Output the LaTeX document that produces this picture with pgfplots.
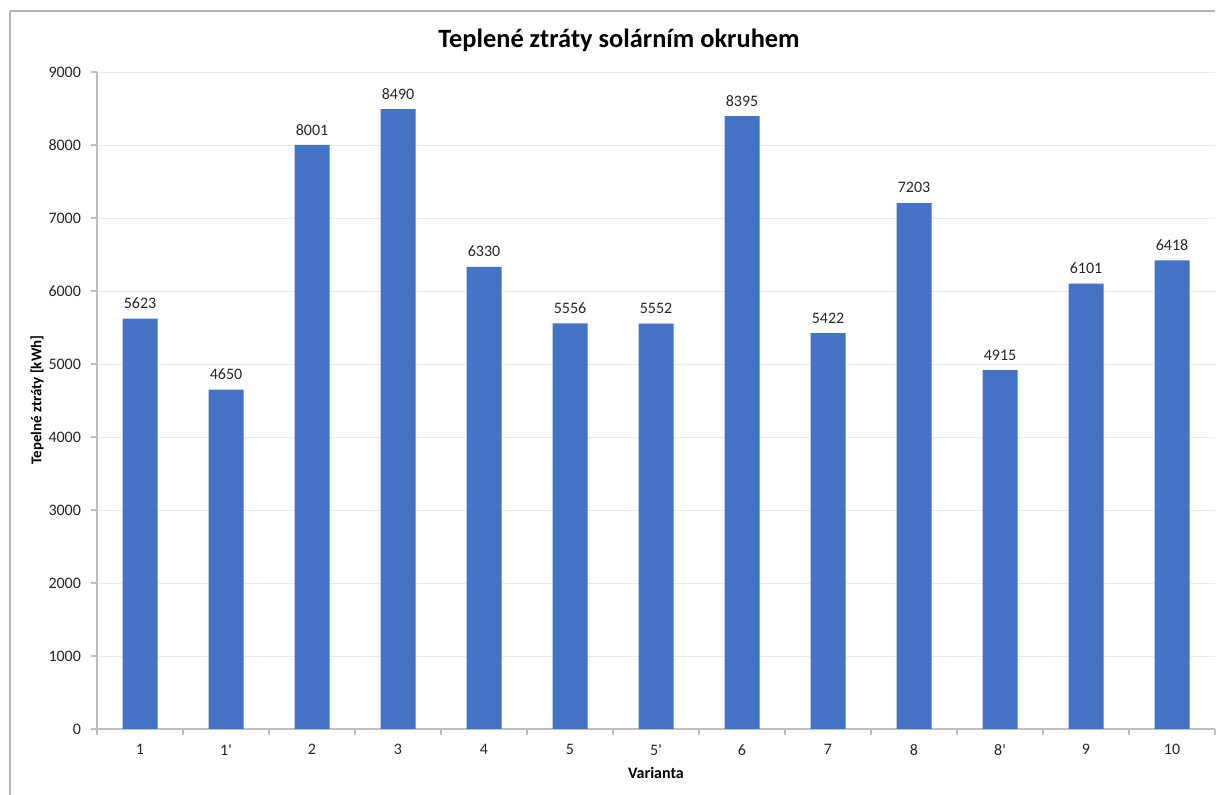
\documentclass[border=0pt]{standalone}
\usepackage{pgfplots}
\pgfplotsset{compat=1.18}
\usepackage{fontspec}
\setmainfont{Carlito}
\definecolor{barblue}{HTML}{4472C4}
\definecolor{axisgray}{HTML}{BFBFBF}
\definecolor{gridgray}{HTML}{EBEBEB}
\definecolor{framegray}{HTML}{B4B4B4}
\begin{document}
\begin{tikzpicture}
\useasboundingbox (0,0) rectangle (912pt,596.25pt);
\draw[framegray, line width=0.9pt] (7.5pt,0pt) -- (7.5pt,588pt);
\draw[framegray, line width=0.9pt] (7.5pt,588pt) -- (911.5pt,588pt);
\begin{axis}[
  at={(72.75pt,49.5pt)}, anchor=south west,
  scale only axis, width=838.5pt, height=492.75pt,
  xmin=-0.5, xmax=12.5, ymin=0, ymax=9000,
  axis x line*=bottom, axis y line*=left,
  axis line style={axisgray, line width=0.8pt, -},
  xtick={0,...,12},
  xticklabels={1,1\textquotesingle,2,3,4,5,5\textquotesingle,6,7,8,8\textquotesingle,9,10},
  major x tick style={draw=none},
  minor xtick={-0.5,0.5,...,12.5},
  minor x tick style={axisgray, line width=0.8pt},
  minor tick length=4.5pt,
  ytick={0,1000,...,9000},
  major y tick style={axisgray, line width=0.8pt},
  major tick length=4.5pt,
  tick align=outside,
  ymajorgrids, grid style={gridgray, line width=0.6pt},
  /pgf/number format/1000 sep={},
  /pgf/number format/assume math mode=true,
  ticklabel style={font=\fontsize{12pt}{14pt}\selectfont, text=black!85},
  xticklabel style={anchor=center, yshift=-11pt},
  yticklabel style={anchor=east, xshift=-4pt},
  ybar, bar width=26.25pt,
  nodes near coords,
  nodes near coords style={font=\fontsize{12pt}{14pt}\selectfont, text=black!85, anchor=center, yshift=11.5pt},
]
\addplot[fill=barblue, draw=none] coordinates {
(0,5623) (1,4650) (2,8001) (3,8490) (4,6330) (5,5556) (6,5552)
(7,8395) (8,5422) (9,7203) (10,4915) (11,6101) (12,6418)};
\end{axis}
\node[font=\fontsize{19.8pt}{23pt}\selectfont\bfseries] at (464.25pt,566.25pt) {Teplené ztráty solárním okruhem};
\node[font=\fontsize{11.2pt}{13pt}\selectfont\bfseries, rotate=90] at (27.75pt,296.25pt) {Tepelné ztráty [kWh]};
\node[font=\fontsize{12pt}{14pt}\selectfont\bfseries] at (492pt,16.5pt) {Varianta};
\end{tikzpicture}
\end{document}
